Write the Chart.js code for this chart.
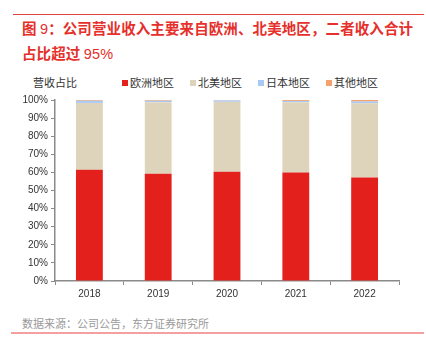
<!DOCTYPE html>
<html>
<head>
<meta charset="utf-8">
<script src="https://cdn.jsdelivr.net/npm/chart.js@4/dist/chart.umd.min.js"></script>
<style>
  html, body { margin: 0; padding: 0; background: #fff; }
  body { width: 426px; height: 346px; position: relative; overflow: hidden;
         font-family: "Noto Sans CJK SC", "Liberation Sans", sans-serif; }
  .rule-top { position: absolute; left: 13px; top: 14px; width: 411px; height: 0; border-top: 1px solid #e8403a; }
  .title { position: absolute; left: 22px; top: 16px; width: 400px; color: #e5302b;
           font-size: 14.5px; font-weight: bold; line-height: 23px; letter-spacing: 0.1px; }
  .title .num { font-family: "Liberation Sans", Arial, sans-serif; font-weight: normal; }
  .unit { position: absolute; left: 33px; top: 74px; font-size: 11px; color: #333; }
  .legend { position: absolute; top: 74px; left: 0; font-size: 11px; color: #333; }
  .legend span.item { position: absolute; white-space: nowrap; }
  .legend i { display: inline-block; width: 6px; height: 6px; margin-right: 2px; vertical-align: 1px; }
  #wrap { position: absolute; left: 0; top: 90px; width: 426px; height: 215px; }
  .source { position: absolute; left: 22px; top: 315px; font-size: 11px; color: #9a9a9a; }
  .rule-bottom { position: absolute; left: 11px; top: 332px; width: 413px; height: 0; border-top: 2px solid #f2a0a0; }
</style>
</head>
<body>
<div class="rule-top"></div>
<div class="title">图 <span class="num">9</span>：公司营业收入主要来自欧洲、北美地区，二者收入合计<br>占比超过 <span class="num">95%</span></div>
<div class="unit">营收占比</div>
<div class="legend" id="legend"></div>
<div id="wrap"><canvas id="c"></canvas></div>
<div class="source">数据来源：公司公告，东方证券研究所</div>
<div class="rule-bottom"></div>
<script>
// shares of revenue by region, %
const YEARS = ['2018', '2019', '2020', '2021', '2022'];
const EUROPE = [61.4, 59.3, 60.4, 60.0, 57.2];
const NORTH_AMERICA = [37.0, 39.5, 38.6, 38.8, 41.0];
const JAPAN = [1.2, 0.8, 0.8, 0.7, 1.0];
const OTHER = [0.4, 0.4, 0.2, 0.5, 0.8];

const SERIES_NAMES = ['欧洲地区', '北美地区', '日本地区', '其他地区'];
const SERIES_COLORS = ['#e3201b', '#ddd4bb', '#a9c9f5', '#f5a16b'];
const LEGEND_X = [122, 190, 258, 326];

// html legend
const legendEl = document.getElementById('legend');
SERIES_NAMES.forEach((name, i) => {
  const s = document.createElement('span');
  s.className = 'item';
  s.style.left = LEGEND_X[i] + 'px';
  s.innerHTML = '<i style="background:' + SERIES_COLORS[i] + '"></i>' + name;
  legendEl.appendChild(s);
});

const values = [EUROPE, NORTH_AMERICA, JAPAN, OTHER];
const datasets = SERIES_NAMES.map((name, i) => ({
  label: name,
  data: values[i],
  backgroundColor: SERIES_COLORS[i],
  borderColor: 'rgba(255,255,255,0.35)',
  borderWidth: 0,
  barPercentage: 0.39,
  categoryPercentage: 1,
}));

const AXIS = '#8a8a8a';
const TICK_FONT = { family: '"Liberation Sans", Arial, sans-serif', size: 10 };

new Chart(document.getElementById('c').getContext('2d'), {
  type: 'bar',
  data: { labels: YEARS, datasets },
  options: {
    responsive: true,
    maintainAspectRatio: false,
    animation: false,
    layout: { padding: { left: 0, right: 27, top: 10, bottom: 0 } },
    plugins: { legend: { display: false }, tooltip: { enabled: false } },
    scales: {
      x: {
        stacked: true,
        grid: { display: true, drawOnChartArea: false, drawTicks: true, tickLength: 4, color: AXIS, offset: true },
        border: { display: true, color: AXIS, width: 1.5 },
        ticks: { color: '#333', font: TICK_FONT, padding: 3, maxRotation: 0 },
        afterFit: s => { s.height = 24; },
      },
      y: {
        stacked: true,
        min: 0, max: 100,
        grid: { display: true, drawOnChartArea: false, drawTicks: true, tickLength: 4, color: AXIS },
        border: { display: true, color: AXIS, width: 1.5 },
        ticks: { stepSize: 10, color: '#333', font: TICK_FONT, padding: 3, callback: v => v + '%' },
        afterFit: s => { s.width = 55; },
      },
    },
  },
});
</script>
</body>
</html>
